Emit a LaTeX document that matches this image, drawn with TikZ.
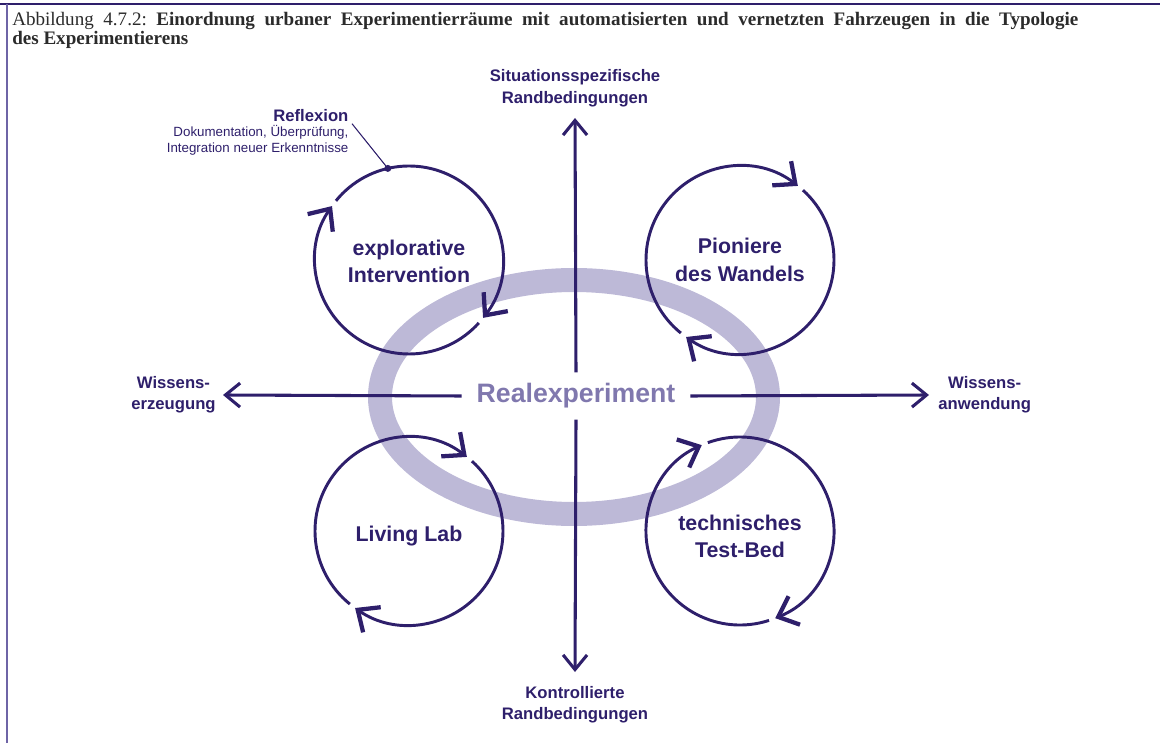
\documentclass[tikz,border=0pt]{standalone}
\usepackage{fontspec}
\setmainfont{Liberation Serif}
\setsansfont{Liberation Sans}
\usepackage{tikz}
\usetikzlibrary{arrows.meta,positioning}
\definecolor{Lila}{HTML}{2E1F6B}
\definecolor{Ring}{HTML}{BDB9D7}
\definecolor{RingText}{HTML}{8078AE}
\definecolor{Frame}{HTML}{6E64A6}
\definecolor{Caption}{HTML}{2B2B2B}
\newcommand{\fs}[2]{\fontsize{#1}{#2}\selectfont}

\begin{document}
\begin{tikzpicture}[x=0.75pt,y=0.75pt,font=\sffamily\bfseries,
  every node/.style={align=center,text=Lila},
  axis/.style={draw=Lila,line width=2.3pt,-{Straight Barb[length=11pt,width=18pt,line width=2.3pt]}},
  cyc/.style={draw=Lila,line width=2.2pt,-{Straight Barb[length=13pt,width=23pt,line width=3.2pt]}}]
  \useasboundingbox (0,0) rectangle (1160,743);
  % frame and caption
  \draw[Lila,line width=1.5pt] (0,739) -- (1160,739);
  \draw[Frame,line width=1.5pt] (6.5,739) -- (6.5,0);
  \node[anchor=north west,align=justify,text width=799.5pt,inner sep=0,text=Caption,
    font=\rmfamily\fs{14.3}{12.9}\frenchspacing] (cap) at (12,731)
    {Abbildung 4.7.2: \textbf{Einordnung urbaner Experimentierräume mit automatisierten und vernetzten Fahrzeugen in die Typologie}\linebreak\textbf{des Experimentierens}};
  % ring
  \draw[Ring,line width=18pt] (574,346) ellipse [x radius=194,y radius=117];
  % the four types
  \coordinate (cE) at (409,483);
  \coordinate (cP) at (740,483);
  \coordinate (cL) at (409,212);
  \coordinate (cT) at (740,212);
  \node[font=\sffamily\bfseries\fs{16}{20.5}] (expl) at ([yshift=-1pt]cE) {explorative\\Intervention};
  \node[font=\sffamily\bfseries\fs{16}{20.5}] (pion) at (cP) {Pioniere\\des Wandels};
  \node[font=\sffamily\bfseries\fs{16}{20.5}] (liv) at ([yshift=-3.5pt]cL) {Living Lab};
  \node[font=\sffamily\bfseries\fs{16}{20.5}] (tech) at ([yshift=-4pt]cT) {technisches\\Test-Bed};
  \draw[cyc] ([shift={(141:94)}]cE) arc[start angle=141,end angle=-38,radius=94];
  \draw[cyc] ([shift={(-42:94)}]cE) arc[start angle=-42,end angle=-215,radius=94];
  \draw[cyc] ([shift={(48:94)}]cP) arc[start angle=48,end angle=-125,radius=94];
  \draw[cyc] ([shift={(-129:94)}]cP) arc[start angle=-129,end angle=-308,radius=94];
  \draw[cyc] ([shift={(48:94)}]cL) arc[start angle=48,end angle=-125,radius=94];
  \draw[cyc] ([shift={(-129:94)}]cL) arc[start angle=-129,end angle=-308,radius=94];
  \draw[cyc] ([shift={(110:94)}]cT) arc[start angle=110,end angle=-68,radius=94];
  \draw[cyc] ([shift={(-72:94)}]cT) arc[start angle=-72,end angle=-246,radius=94];
  % reflexion
  \node[anchor=east,inner sep=1pt,font=\sffamily\bfseries\fs{12.5}{15}] (refl) at (350,627) {Reflexion};
  \node[anchor=north east,inner sep=1pt,align=right,font=\sffamily\fs{10}{12}] (reflt) at (refl.south east)
    {Dokumentation, Überprüfung,\\Integration neuer Erkenntnisse};
  \coordinate (dot) at ([shift={(103:94)}]cE);
  \draw[Lila,line width=0.8pt] ([xshift=1.5pt]refl.south east) -- (dot);
  \fill[Lila] (dot) circle (3.5);
  % centre and axes
  \node[text=RingText,inner sep=0,minimum width=171pt,minimum height=35pt,font=\sffamily\bfseries\fs{20}{24}] (real) at (576,347) {Realexperiment};
  \coordinate (top) at (575,625);
  \coordinate (bot) at (575,71);
  \coordinate (left) at (223,348);
  \coordinate (right) at (929,348);
  \draw[axis] (real.north) -- (top);
  \draw[axis] (real.south) -- (bot);
  \draw[axis] (real.west) -- (left);
  \draw[axis] (real.east) -- (right);
  \node[above=5pt of top,font=\sffamily\bfseries\fs{12.5}{16}] (sit) {Situationsspezifische\\Randbedingungen};
  \node[below=7pt of bot,font=\sffamily\bfseries\fs{12.5}{16}] (kon) {Kontrollierte\\Randbedingungen};
  \node[left=2pt of left,font=\sffamily\bfseries\fs{12.5}{16}] (erz) {Wissens-\\erzeugung};
  \node[right=3.5pt of right,font=\sffamily\bfseries\fs{12.5}{16}] (anw) {Wissens-\\anwendung};
\end{tikzpicture}
\end{document}
